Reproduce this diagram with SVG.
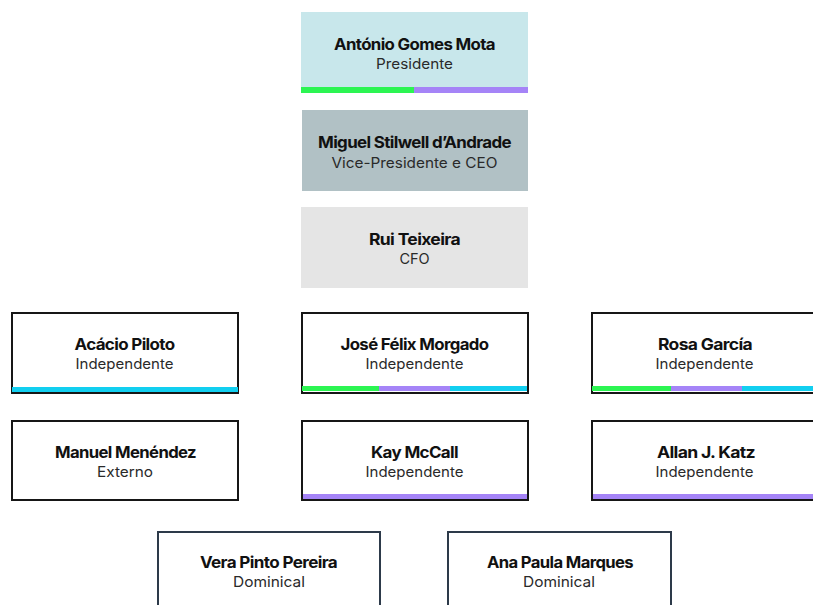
<svg xmlns="http://www.w3.org/2000/svg" width="813" height="605" viewBox="0 0 813 605">
<style>
.nm{font-family:Inter,"Liberation Sans",sans-serif;font-weight:700;font-size:16px;fill:#111;text-anchor:middle;letter-spacing:-0.6px}
.sb{font-family:Inter,"Liberation Sans",sans-serif;font-weight:400;font-size:14.5px;fill:#2a2a2a;text-anchor:middle}
.bx{fill:#fff;stroke:#161616;stroke-width:2}
.bx2{fill:#fff;stroke:#2d3a4a;stroke-width:2}
.g{fill:#2cf552}.p{fill:#a584f7}.c{fill:#12cff0}
</style>
<rect width="813" height="605" fill="#fff"/>
<g id="connectors"/>
<g id="n-mota">
<rect x="301" y="12" width="227" height="81" fill="#c8e7eb"/>
<rect x="301" y="87" width="113" height="6" class="g"/>
<rect x="414" y="87" width="114" height="6" class="p"/>
<text x="414.5" y="50" class="nm" textLength="161" lengthAdjust="spacingAndGlyphs">António Gomes Mota</text>
<text x="414.5" y="69" class="sb" textLength="77" lengthAdjust="spacingAndGlyphs">Presidente</text>
</g>
<g id="n-andrade">
<rect x="302" y="110" width="226" height="81" fill="#b1c1c5"/>
<text x="414.5" y="148" class="nm" textLength="193" lengthAdjust="spacingAndGlyphs">Miguel Stilwell d’Andrade</text>
<text x="414.5" y="168" class="sb" textLength="166" lengthAdjust="spacingAndGlyphs">Vice-Presidente e CEO</text>
</g>
<g id="n-teixeira">
<rect x="301" y="207" width="227" height="81" fill="#e5e5e5"/>
<text x="414.5" y="245" class="nm" textLength="91" lengthAdjust="spacingAndGlyphs">Rui Teixeira</text>
<text x="414.5" y="264" class="sb">CFO</text>
</g>
<g id="n-piloto">
<rect x="12" y="313" width="226" height="80" class="bx"/>
<rect x="12" y="387" width="226" height="5" class="c"/>
<text x="124.5" y="350" class="nm" textLength="100" lengthAdjust="spacingAndGlyphs">Acácio Piloto</text>
<text x="124.5" y="369" class="sb" textLength="98" lengthAdjust="spacingAndGlyphs">Independente</text>
</g>
<g id="n-morgado">
<rect x="302" y="313" width="226" height="80" class="bx"/>
<rect x="302" y="386" width="77" height="5" class="g"/>
<rect x="379" y="386" width="71" height="5" class="p"/>
<rect x="450" y="386" width="77" height="5" class="c"/>
<text x="414.5" y="350" class="nm" textLength="148" lengthAdjust="spacingAndGlyphs">José Félix Morgado</text>
<text x="414.5" y="369" class="sb" textLength="98" lengthAdjust="spacingAndGlyphs">Independente</text>
</g>
<g id="n-garcia">
<rect x="592" y="313" width="226" height="80" class="bx"/>
<rect x="592" y="386" width="79" height="5" class="g"/>
<rect x="671" y="386" width="71" height="5" class="p"/>
<rect x="742" y="386" width="75" height="5" class="c"/>
<text x="705" y="350" class="nm" textLength="94" lengthAdjust="spacingAndGlyphs">Rosa García</text>
<text x="704.5" y="369" class="sb" textLength="98" lengthAdjust="spacingAndGlyphs">Independente</text>
</g>
<g id="n-menendez">
<rect x="12" y="421" width="226" height="79" class="bx"/>
<text x="125.5" y="458" class="nm" textLength="141" lengthAdjust="spacingAndGlyphs">Manuel Menéndez</text>
<text x="125" y="477" class="sb" textLength="56" lengthAdjust="spacingAndGlyphs">Externo</text>
</g>
<g id="n-mccall">
<rect x="302" y="421" width="226" height="79" class="bx"/>
<rect x="303" y="494" width="224" height="5" class="p"/>
<text x="414.5" y="458" class="nm" textLength="87" lengthAdjust="spacingAndGlyphs">Kay McCall</text>
<text x="414.5" y="477" class="sb" textLength="98" lengthAdjust="spacingAndGlyphs">Independente</text>
</g>
<g id="n-katz">
<rect x="592" y="421" width="226" height="79" class="bx"/>
<rect x="593" y="494" width="224" height="5" class="p"/>
<text x="706" y="458" class="nm" textLength="98" lengthAdjust="spacingAndGlyphs">Allan J. Katz</text>
<text x="704.5" y="477" class="sb" textLength="98" lengthAdjust="spacingAndGlyphs">Independente</text>
</g>
<g id="n-pereira">
<rect x="158" y="532" width="222" height="90" class="bx2"/>
<text x="268.5" y="568" class="nm" textLength="137" lengthAdjust="spacingAndGlyphs">Vera Pinto Pereira</text>
<text x="269" y="587" class="sb" textLength="72" lengthAdjust="spacingAndGlyphs">Dominical</text>
</g>
<g id="n-marques">
<rect x="448" y="532" width="223" height="90" class="bx2"/>
<text x="560" y="568" class="nm" textLength="146" lengthAdjust="spacingAndGlyphs">Ana Paula Marques</text>
<text x="559" y="587" class="sb" textLength="72" lengthAdjust="spacingAndGlyphs">Dominical</text>
</g>
</svg>
